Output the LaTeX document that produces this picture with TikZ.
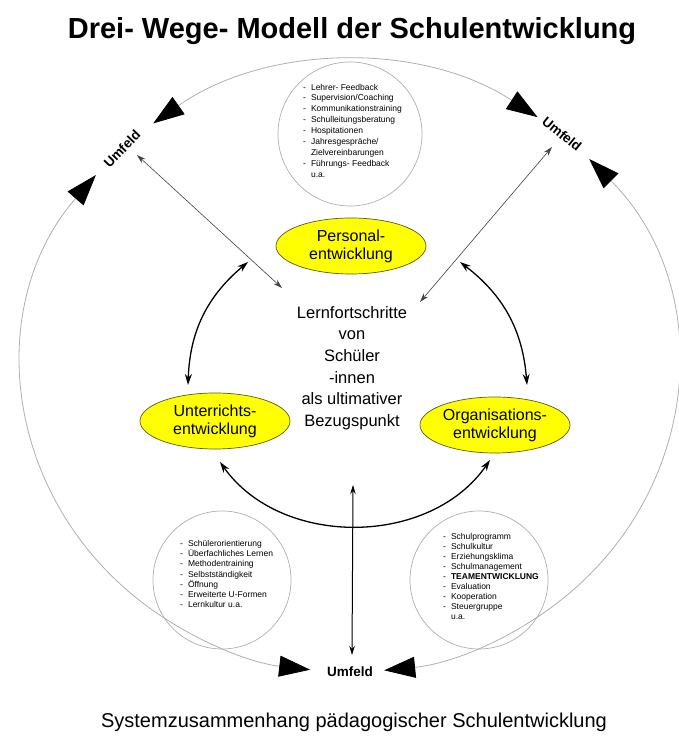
\documentclass[tikz,border=0pt]{standalone}
\usepackage{fontspec}
\setmainfont{Liberation Sans}
\usetikzlibrary{arrows.meta,shapes.geometric,calc}
\definecolor{swGelb}{RGB}{255,255,0}
\definecolor{swRand}{RGB}{90,90,40}
\definecolor{swGrau}{RGB}{175,175,175}
\tikzset{
    feld/.style={
        ellipse,draw=swRand,line width=0.7pt,fill=swGelb,
        minimum width=150pt,minimum height=56pt,inner sep=0pt,
        align=center,font=\fontsize{16}{18}\selectfont
    },
    kreis/.style={
        circle,draw=swGrau,line width=0.7pt,inner sep=0pt
    },
    liste/.style={
        anchor=west,align=left,inner sep=0pt
    },
    umfeld/.style={
        font=\fontsize{13.5}{16}\selectfont\bfseries,inner sep=1pt
    },
    huelle/.style={
        draw=swGrau,line width=0.8pt,
        {Triangle[length=31pt,width=21pt,color=black]}-{Triangle[length=31pt,width=21pt,color=black]}
    },
    wechsel/.style={
        {Stealth[length=11pt,width=7pt]}-{Stealth[length=11pt,width=7pt]},line width=1.3pt
    },
    duenn/.style={
        {Stealth[length=9pt,width=5.5pt]}-{Stealth[length=9pt,width=5.5pt]},
        line width=0.6pt,draw=black!75
    }
}

\begin{document}
\begin{tikzpicture}[x=1pt,y=1pt]
\useasboundingbox (0,0) rectangle (678,738);

\node[font=\fontsize{29}{34}\selectfont\bfseries] (titel) at (352,707)
{Drei- Wege- Modell der Schulentwicklung};

\node[font=\fontsize{20}{24}\selectfont] (unterschrift) at (354,16)
{Systemzusammenhang pädagogischer Schulentwicklung};

% Umfeld
\coordinate (mitte) at (350,371);
\draw[huelle] ($(mitte)+(127:327 and 305)$) arc[start angle=127,end angle=55,x radius=327,y radius=305];
\draw[huelle] ($(mitte)+(43:327 and 305)$) arc[start angle=43,end angle=-84,x radius=327,y radius=305];
\draw[huelle] ($(mitte)+(141:327 and 305)$) arc[start angle=141,end angle=263,x radius=327,y radius=305];

\node[umfeld,rotate=46] (umfLO) at (122,589) {Umfeld};
\node[umfeld,rotate=-39] (umfRO) at (562,604) {Umfeld};
\node[umfeld] (umfU) at (350,66) {Umfeld};

% Kreise mit Stichworten
\node[kreis,minimum size=144pt] (kreisP) at (350,604) {};
\node[kreis,minimum size=138pt] (kreisU) at (222,158) {};
\node[kreis,minimum size=138pt] (kreisO) at (479,158) {};

\node[liste,font=\fontsize{8.5}{10.9}\selectfont] (listeP) at (303,606.5)
{\begin{tabular}{@{}l@{\hspace{5pt}}l@{}}
- & Lehrer- Feedback\\
- & Supervision/Coaching\\
- & Kommunikationstraining\\
- & Schulleitungsberatung\\
- & Hospitationen\\
- & Jahresgespräche/\\
  & Zielvereinbarungen\\
- & Führungs- Feedback\\
  & u.a.
\end{tabular}};

\node[liste,font=\fontsize{8.5}{10.1}\selectfont] (listeU) at (180,163)
{\begin{tabular}{@{}l@{\hspace{5pt}}l@{}}
- & Schülerorientierung\\
- & Überfachliches Lernen\\
- & Methodentraining\\
- & Selbstständigkeit\\
- & Öffnung\\
- & Erweiterte U-Formen\\
- & Lernkultur u.a.
\end{tabular}};

\node[liste,font=\fontsize{8.5}{10.1}\selectfont] (listeO) at (443,160.5)
{\begin{tabular}{@{}l@{\hspace{5pt}}l@{}}
- & Schulprogramm\\
- & Schulkultur\\
- & Erziehungsklima\\
- & Schulmanagement\\
- & \textbf{TEAMENTWICKLUNG}\\
- & Evaluation\\
- & Kooperation\\
- & Steuergruppe\\
  & u.a.
\end{tabular}};

% drei Wege
\node[feld] (pers) at (351,492) {Personal-\\entwicklung};
\node[feld] (unt) at (215,317) {Unterrichts-\\entwicklung};
\node[feld] (org) at (495,313) {Organisations-\\entwicklung};

\node[font=\fontsize{16.5}{21.7}\selectfont,align=center] (ziel) at (352,370)
{Lernfortschritte\\von\\Schüler\\-innen\\als ultimativer\\Bezugspunkt};

\coordinate (persL) at (248,476);
\coordinate (untO) at (188,353);
\coordinate (persR) at (460,476);
\coordinate (orgO) at (527,353);
\coordinate (untU) at (220,276);
\coordinate (orgU) at (490,278);
\draw[wechsel] (persL) to[bend right=24] (untO);
\draw[wechsel] (persR) to[bend left=24] (orgO);
\draw[wechsel] (untU) to[bend right=55] (orgU);

\coordinate (loA) at (137,583);
\coordinate (loB) at (282,450);
\coordinate (roA) at (552,591);
\coordinate (roB) at (420,436);
\coordinate (uA) at (352,83);
\coordinate (uB) at (353,253);
\draw[duenn] (loA) -- (loB);
\draw[duenn] (roA) -- (roB);
\draw[duenn,draw=black,line width=1pt] (uA) -- (uB);

\end{tikzpicture}
\end{document}
